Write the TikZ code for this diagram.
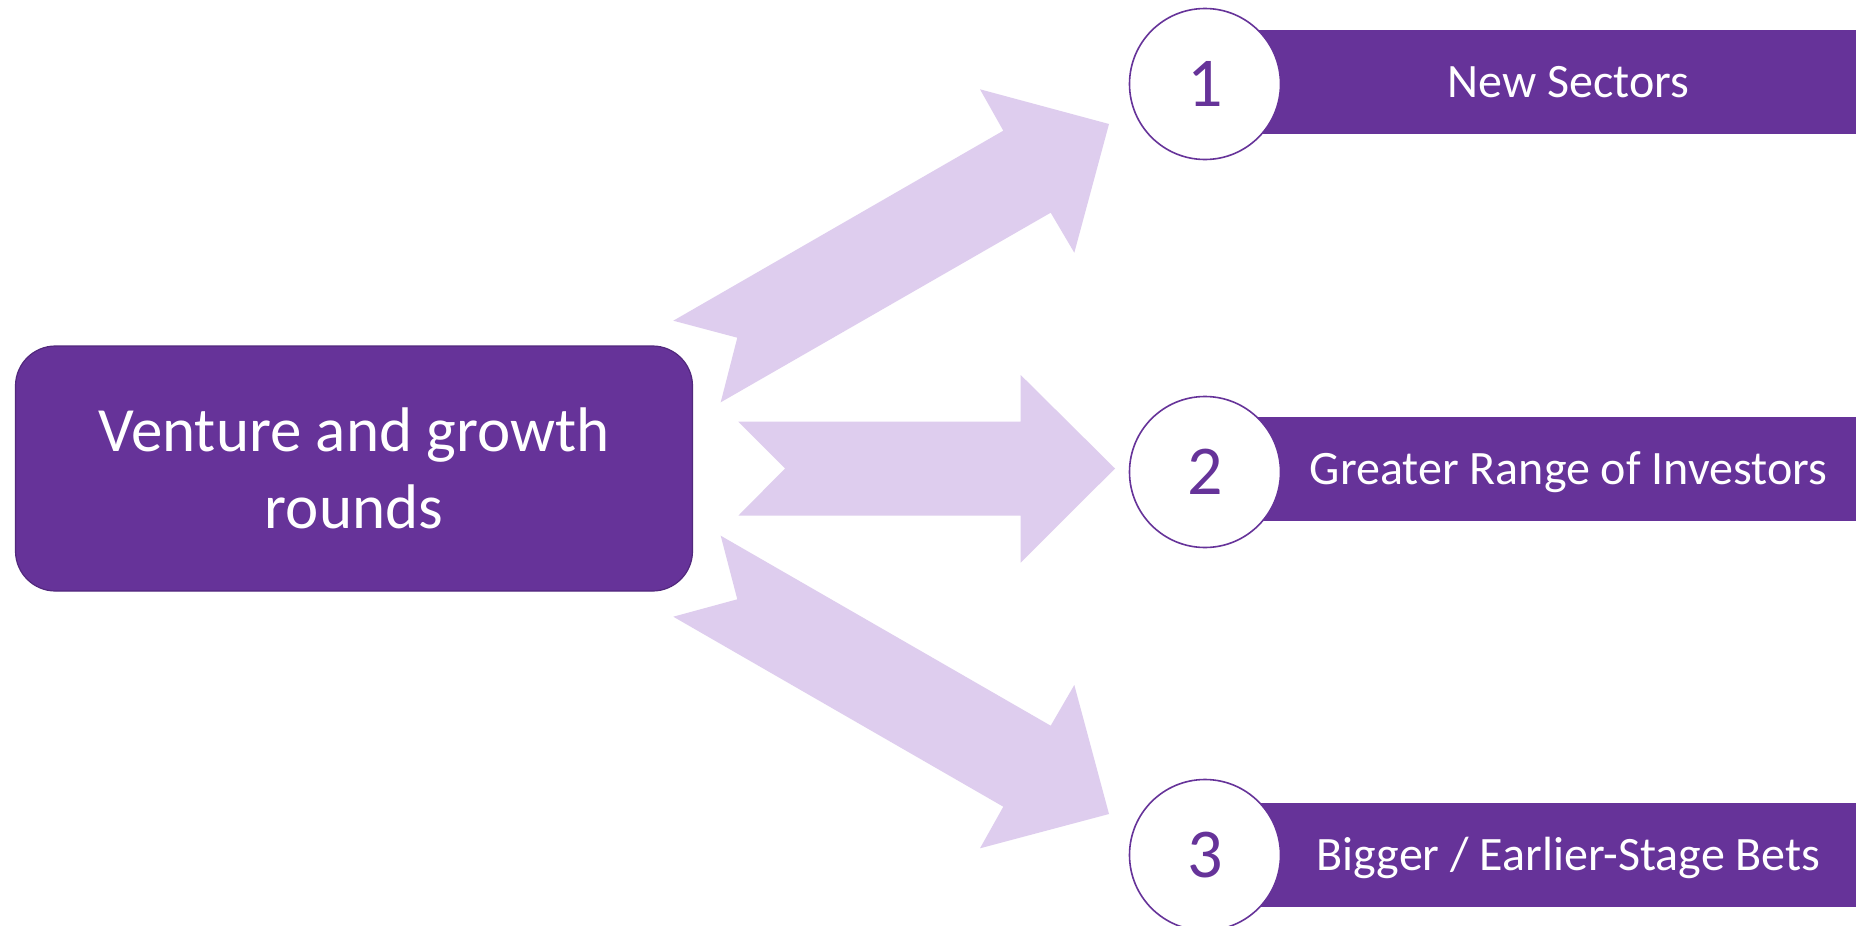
\documentclass[tikz,border=0pt]{standalone}
\usepackage{fontspec}
\setmainfont{Carlito}
\definecolor{vpurple}{HTML}{663399}
\definecolor{vedge}{HTML}{52287D}
\definecolor{vlav}{HTML}{DECDEE}
\tikzset{
  mainbox/.style={fill=vpurple, draw=vedge, line width=1.2pt, rounded corners=40pt,
    minimum width=677pt, minimum height=245pt, text=white, align=center, inner sep=0pt,
    font=\fontsize{63}{77}\selectfont},
  barbox/.style={fill=vpurple, draw=none, anchor=west, minimum width=660pt, minimum height=104pt, inner sep=0pt},
  bartext/.style={text=white, font=\fontsize{48}{58}\selectfont, text height=31pt, text depth=0pt, inner sep=0pt},
  numcircle/.style={circle, fill=white, draw=vpurple, line width=1.6pt, minimum size=151pt, inner sep=0pt,
    text=vpurple, font=\fontsize{70}{84}\selectfont},
  blockarrow/.style={fill=vlav, draw=none}
}
\begin{document}
\begin{tikzpicture}[x=1pt,y=-1pt]
\useasboundingbox (0,0) rectangle (1856,926);
\fill[white] (0,0) rectangle (1856,926);

% main node
\node[mainbox] (main) at (354,468.5) {Venture and growth\\rounds};

% bars
\node[barbox] (bar1) at (1205,81.7) {};
\node[barbox] (bar2) at (1205,468.7) {};
\node[barbox] (bar3) at (1205,854.6) {};

% circles
\node[numcircle] (c1) at (1205,84) {1};
\node[numcircle] (c2) at (1205,472) {2};
\node[numcircle] (c3) at (1205,855) {3};

% bar texts
\node[bartext] (t1) at (1568.5,81.7) {New Sectors};
\node[bartext] (t2) at (1568.5,468.7) {Greater Range of Investors};
\node[bartext] (t3) at (1568.5,854.6) {Bigger / Earlier-Stage Bets};

% block arrows
\fill[blockarrow] (673.3,320.7) -- (737.3,337.7) -- (720.7,402.3) -- (1050.7,212.7)
  -- (1074.3,252.7) -- (1109,124) -- (980,89.3) -- (1003.3,130.7) -- cycle;
\fill[blockarrow] (738.3,421.7) -- (785,468.5) -- (738.3,515.7) -- (1020.7,515.7)
  -- (1020.7,562.7) -- (1115,468.5) -- (1020.7,375) -- (1020.7,421.7) -- cycle;
\fill[blockarrow] (673.3,616.7) -- (737.3,599.3) -- (720.7,535.7) -- (1050.7,725.7)
  -- (1074.3,685) -- (1109,814) -- (980,848.3) -- (1003.3,806.7) -- cycle;
\end{tikzpicture}
\end{document}
